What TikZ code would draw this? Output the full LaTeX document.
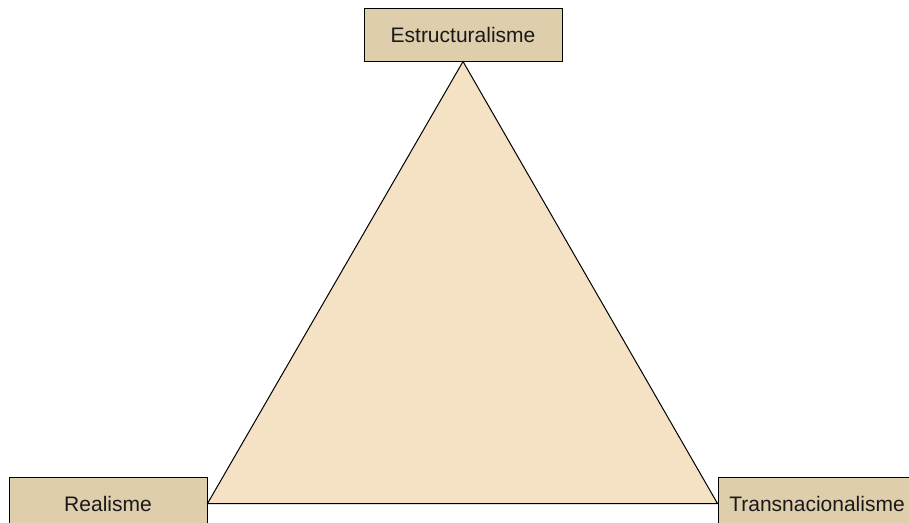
\documentclass[tikz,border=0pt]{standalone}
\usepackage{fontspec}
\setmainfont{Liberation Sans}
\usepackage{xcolor}
\definecolor{boxtan}{RGB}{223,206,172}
\definecolor{trifill}{RGB}{245,225,195}
\usepackage{tikz}

\begin{document}
\begin{tikzpicture}[x=0.75pt,y=-0.75pt,line width=0.75pt,
                    font=\fontsize{15.75}{19}\selectfont]
  \tikzstyle{theory}=[draw=black,fill=boxtan,text=black!90,minimum width=148.5pt,
                      minimum height=39.75pt,inner sep=0pt]
  \tikzstyle{tri}=[draw=black,fill=trifill,line join=miter]

  \clip (0,0) rectangle (909,522);

  \node[theory] (est) at (463,34.5) {Estructuralisme};
  \node[theory] (real) at (108,503.5) {Realisme};
  \node[theory] (trans) at (817,503.5) {Transnacionalisme};

  \path[tri] (est.south) -- (real.east) -- (trans.west) -- cycle;

\end{tikzpicture}
\end{document}
